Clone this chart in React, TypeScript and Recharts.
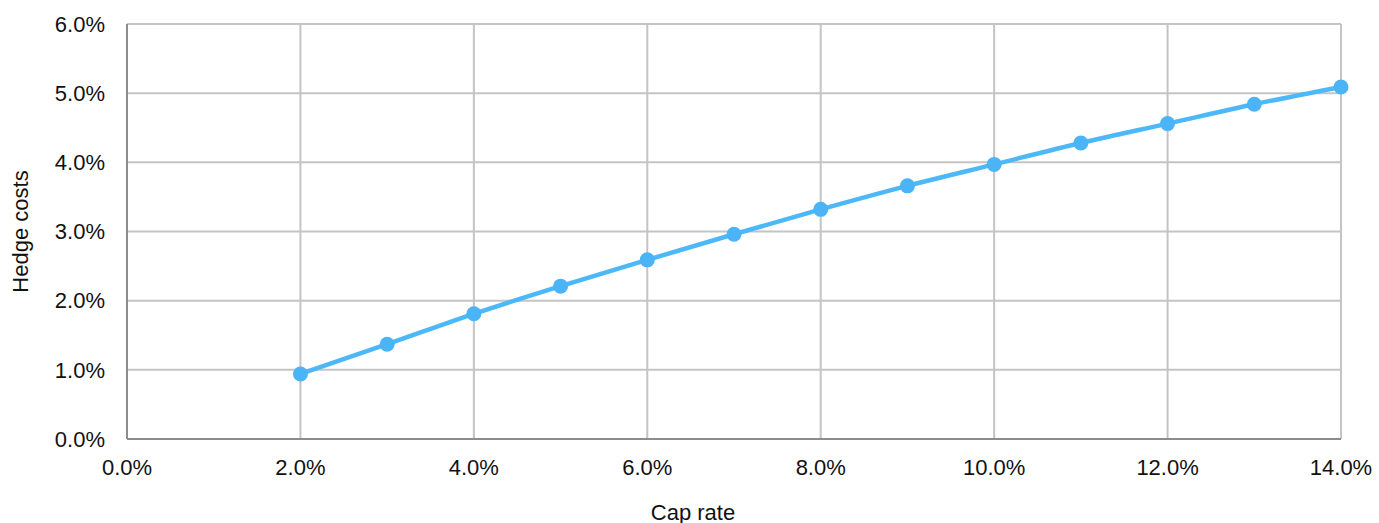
import { LineChart, Line, XAxis, YAxis, CartesianGrid } from "recharts";

const capRates = [2, 3, 4, 5, 6, 7, 8, 9, 10, 11, 12, 13, 14];
const hedgeCosts = [0.94, 1.37, 1.81, 2.21, 2.59, 2.96, 3.32, 3.66, 3.97, 4.28, 4.56, 4.84, 5.09];
const xTicks = [0, 2, 4, 6, 8, 10, 12, 14];
const yTicks = [0, 1, 2, 3, 4, 5, 6];

const data = capRates.map((x, i) => ({ x, y: hedgeCosts[i] }));

const FONT = '"Liberation Sans", Arial, sans-serif';
const fmt = (v: number) => `${v.toFixed(1)}%`;

interface VB {
  x?: number;
  y?: number;
  width?: number;
  height?: number;
}

function YLabel({ viewBox }: { viewBox?: VB }) {
  const vb = viewBox || {};
  const cx = 20;
  const cy = (vb.y ?? 0) + (vb.height ?? 0) / 2;
  return (
    <text
      x={cx}
      y={cy}
      transform={`rotate(-90, ${cx}, ${cy})`}
      textAnchor="middle"
      dominantBaseline="central"
      fontSize={22}
      fontFamily={FONT}
      fill="#111"
    >
      Hedge costs
    </text>
  );
}

// the x title is centred on the whole chart, not on the plot area
function XLabel() {
  return (
    <text
      x={693}
      y={512}
      textAnchor="middle"
      dominantBaseline="central"
      fontSize={22}
      fontFamily={FONT}
      fill="#111"
    >
      Cap rate
    </text>
  );
}

export default function App() {
  return (
    <div style={{ position: "absolute", left: 0, top: 0, background: "#fff" }}>
      <LineChart
        width={1379}
        height={523}
        data={data}
        margin={{ top: 24, right: 38, bottom: 0, left: 0 }}
      >
        <CartesianGrid stroke="#c4c4c4" strokeWidth={2} />
        <XAxis
          type="number"
          dataKey="x"
          domain={[0, 14]}
          ticks={xTicks}
          tickFormatter={fmt}
          height={84}
          tickLine={false}
          tickSize={6}
          tickMargin={14}
          axisLine={{ stroke: "#8c8c8c", strokeWidth: 2 }}
          tick={{ fontSize: 22, fill: "#111", fontFamily: FONT }}
          label={<XLabel />}
        />
        <YAxis
          type="number"
          domain={[0, 6]}
          ticks={yTicks}
          tickFormatter={fmt}
          width={127}
          tickLine={false}
          tickSize={6}
          tickMargin={16}
          axisLine={{ stroke: "#8c8c8c", strokeWidth: 2 }}
          tick={{ fontSize: 22, fill: "#111", fontFamily: FONT }}
          label={<YLabel />}
        />
        <Line
          type="monotone"
          dataKey="y"
          stroke="#4db8f8"
          strokeWidth={4.5}
          dot={{ r: 7.5, fill: "#4ab4f6", stroke: "none" }}
          activeDot={false}
          isAnimationActive={false}
        />
      </LineChart>
    </div>
  );
}
